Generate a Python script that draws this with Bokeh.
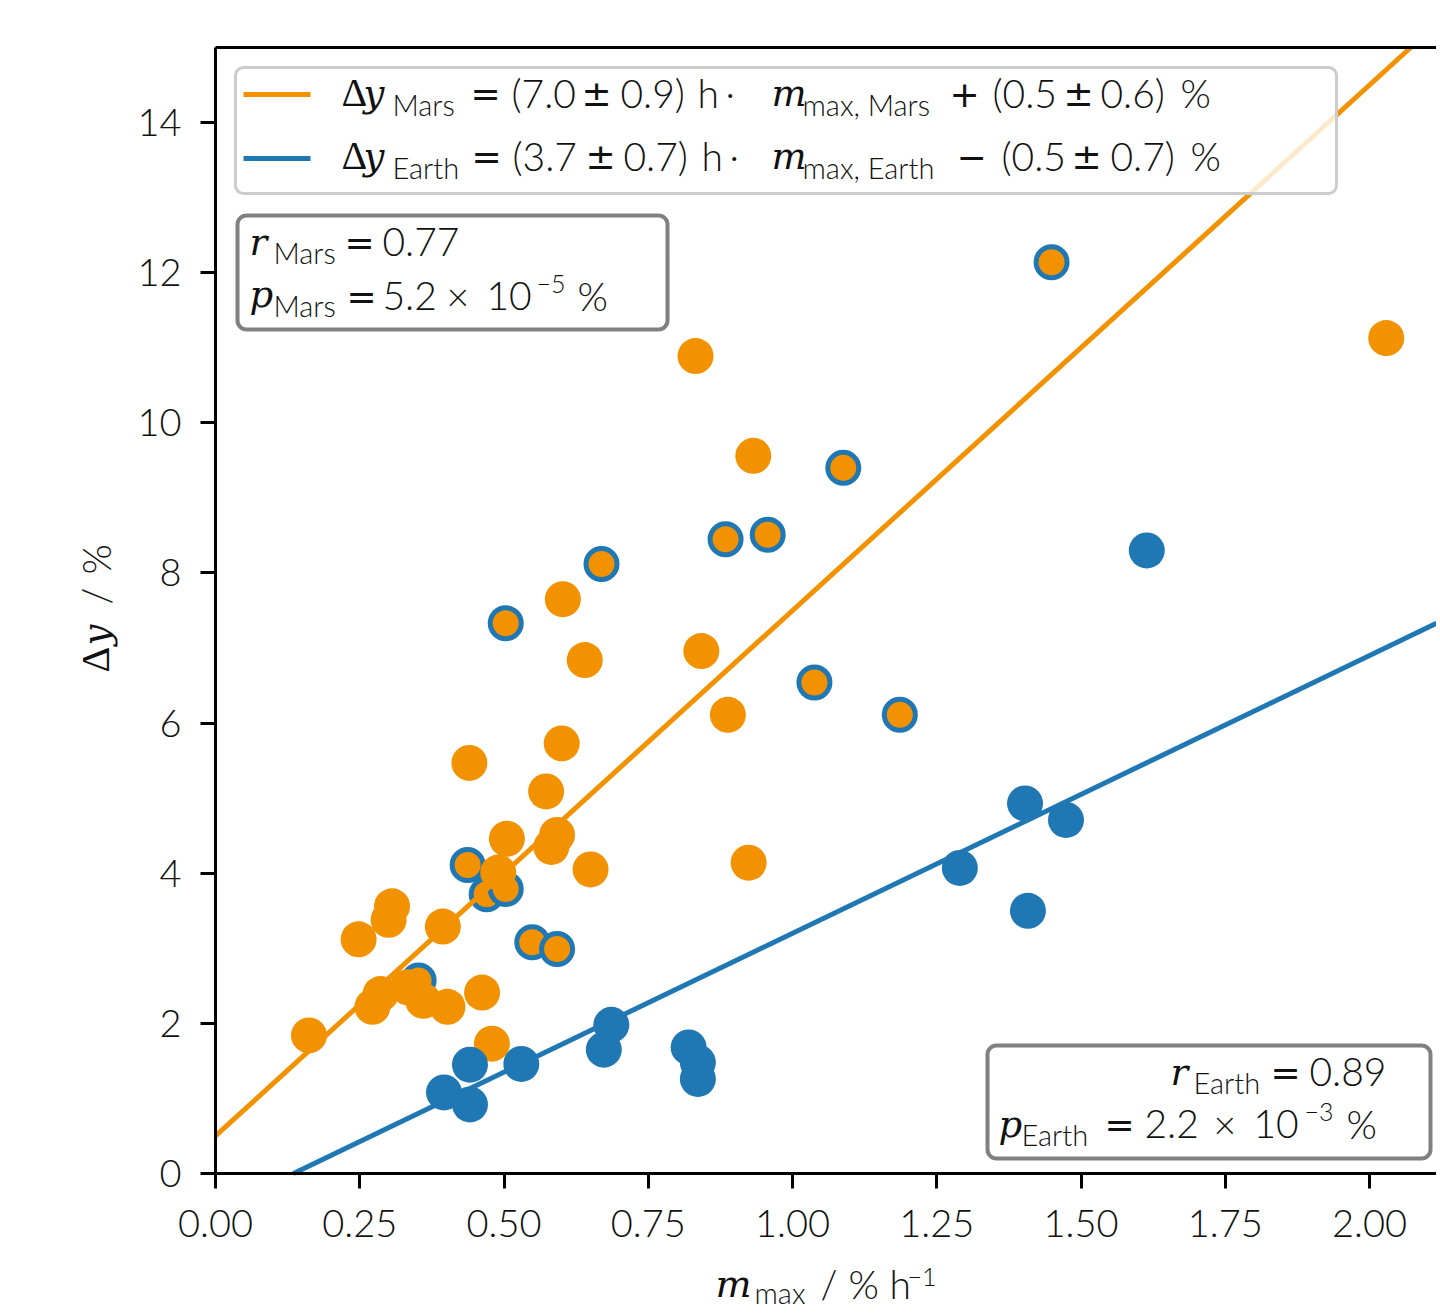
from bokeh.plotting import figure
from bokeh.models import (Range1d, FixedTicker, Label, BoxAnnotation, LinearAxis)
from bokeh.embed import file_html
from bokeh.resources import INLINE

# ---------------- data ----------------
mars_x = [0.832, 2.029, 0.932, 0.602, 0.640, 0.842, 0.888, 0.600, 0.440, 0.573,
          0.505, 0.592, 0.582, 0.650, 0.924, 0.490, 0.306, 0.300, 0.248, 0.394,
          0.162, 0.286, 0.272, 0.333, 0.360, 0.402, 0.462, 0.479]
mars_y = [10.89, 11.13, 9.56, 7.65, 6.84, 6.96, 6.11, 5.73, 5.47, 5.09,
          4.46, 4.51, 4.35, 4.05, 4.14, 4.01, 3.56, 3.38, 3.12, 3.29,
          1.84, 2.39, 2.22, 2.48, 2.30, 2.22, 2.41, 1.73]

# Mars points drawn with a blue edge
mars_ring_x = [1.449, 1.088, 0.884, 0.957, 0.669, 0.503, 1.038, 1.186, 0.437,
               0.470, 0.503, 0.549, 0.592, 0.352]
mars_ring_y = [12.14, 9.40, 8.45, 8.51, 8.12, 7.33, 6.54, 6.11, 4.11,
               3.72, 3.79, 3.08, 2.99, 2.57]

earth_x = [1.614, 1.403, 1.474, 1.290, 1.408, 0.396, 0.441, 0.441, 0.530,
           0.686, 0.673, 0.820, 0.836, 0.836]
earth_y = [8.30, 4.93, 4.71, 4.07, 3.50, 1.08, 0.92, 1.45, 1.46,
           1.98, 1.65, 1.68, 1.48, 1.26]

# linear fits (from the legend)
mars_slope, mars_intercept = 7.0, 0.5
earth_slope, earth_intercept = 3.7, -0.5

x_ticks = [0.0, 0.25, 0.5, 0.75, 1.0, 1.25, 1.5, 1.75, 2.0]
x_tick_labels = ["0.00", "0.25", "0.50", "0.75", "1.00", "1.25", "1.50", "1.75", "2.00"]
y_ticks = [0, 2, 4, 6, 8, 10, 12, 14]
y_tick_labels = ["0", "2", "4", "6", "8", "10", "12", "14"]

# ---------------- layout / style ----------------
W, H = 1436, 1310            # canvas
FL, FT, FB = 215, 47, 1173   # plot-area left / top / bottom in canvas pixels
PX_PER_X = 577.0
PX_PER_Y = (FB - FT) / 15.0
X_MAX = (W - FL) / PX_PER_X
Y_MAX = 15.0

ORANGE = "#f39200"
BLUE = "#1f77b4"
SANS = "Lato Light"
SERIF = "Liberation Serif"
ITAL = "DejaVu Serif"
SYM = "DejaVu Sans"
TXT = "#111111"
MAIN = 39
SUB = 29
SUP = 25
TICK = 38
BASE_K = 0.38   # compensation for label baseline placement

p = figure(width=W, height=H, output_backend="svg", toolbar_location=None,
           x_range=Range1d(-FL / PX_PER_X, X_MAX),
           y_range=Range1d(-(H - FB) / PX_PER_Y, Y_MAX + FT / PX_PER_Y),
           x_axis_location=None, y_axis_location=None, min_border=0)
p.outline_line_color = None
p.background_fill_color = "white"
p.border_fill_color = "white"
p.grid.visible = False


def style_axis(ax):
    ax.axis_line_width = 3
    ax.axis_line_color = "black"
    ax.major_tick_line_width = 3
    ax.major_tick_line_color = "black"
    ax.major_tick_out = 15
    ax.major_tick_in = 0
    ax.minor_tick_line_color = None
    ax.major_label_text_font = SANS
    ax.major_label_text_font_size = f"{TICK}px"
    ax.major_label_text_color = TXT


xaxis = LinearAxis(fixed_location=0, bounds=(0, X_MAX),
                   ticker=FixedTicker(ticks=x_ticks),
                   major_label_overrides=dict(zip(x_ticks, x_tick_labels)),
                   major_label_standoff=21)
style_axis(xaxis)
p.add_layout(xaxis, "below")

yaxis = LinearAxis(fixed_location=0, bounds=(0, Y_MAX),
                   ticker=FixedTicker(ticks=y_ticks),
                   major_label_overrides=dict(zip(y_ticks, y_tick_labels)),
                   major_label_standoff=19)
style_axis(yaxis)
p.add_layout(yaxis, "left")

top = LinearAxis(fixed_location=Y_MAX, bounds=(0, X_MAX), ticker=FixedTicker(ticks=[]))
style_axis(top)
top.major_tick_out = 0
p.add_layout(top, "above")

# ---------------- marks ----------------
p.scatter(mars_ring_x, mars_ring_y, size=31, fill_color=ORANGE, line_color=BLUE, line_width=5)
p.scatter(mars_x, mars_y, size=36, fill_color=ORANGE, line_color=None)
p.scatter(earth_x, earth_y, size=36, fill_color=BLUE, line_color=None)

# fit lines, limited to the plot area
for slope, icpt, col in [(mars_slope, mars_intercept, ORANGE),
                         (earth_slope, earth_intercept, BLUE)]:
    x0 = max(0.0, (0.0 - icpt) / slope)
    x1 = min(X_MAX, (Y_MAX - icpt) / slope)
    p.line([x0, x1], [slope * x0 + icpt, slope * x1 + icpt], line_color=col, line_width=5)


# ---------------- annotations (canvas pixel positions) ----------------
def box(x0, y0, x1, y1, line_color, line_width, fill_alpha=1.0, radius=8, fill="white"):
    p.add_layout(BoxAnnotation(left=x0, right=x1, top=H - y0, bottom=H - y1,
                               left_units="screen", right_units="screen",
                               top_units="screen", bottom_units="screen",
                               fill_color=fill, fill_alpha=fill_alpha,
                               line_color=line_color, line_width=line_width,
                               line_alpha=1.0 if line_color else 0,
                               border_radius=radius))


def put(text, X, Y, size=MAIN, font=SANS, style="normal", angle=0.0):
    # (X, Y): wanted left end of the text baseline, canvas pixels from top-left
    if angle == 0.0:
        Y = Y - BASE_K * size
    else:
        X = X - BASE_K * size
    p.add_layout(Label(x=X, y=H - Y, x_units="screen", y_units="screen",
                       text=text, text_font=font, text_font_size=f"{size}px",
                       text_font_style=style, text_color=TXT,
                       text_baseline="alphabetic", text_align="left", angle=angle))


# legend
box(235, 67, 1336, 193, "#cccccc", 3, fill_alpha=0.8, radius=8)
box(243, 91.5, 310, 96.5, None, 0, radius=0, fill=ORANGE)
box(243, 155.5, 310, 160.5, None, 0, radius=0, fill=BLUE)

for (b, sb, name, a, b1, sign, c, d, xs) in [
    (107, 115, "Mars", "(7.0", "0.9)", "+", "(0.5", "0.6)",
     dict(eq=470, a=511, pm1=581, b1=620, h=697, dot=725, m=771, sub=802, sign=949,
          c=992, pm2=1063, d=1100, pc=1180)),
    (170, 178, "Earth", "(3.7", "0.7)", "\u2212", "(0.5", "0.7)",
     dict(eq=471, a=512, pm1=585, b1=623, h=701, dot=729, m=771, sub=802, sign=956,
          c=1001, pm2=1071, d=1110, pc=1190)),
]:
    put("\u0394", 341, b, 40, SERIF)
    put("y", 363, b, 37, ITAL, "italic")
    put(name, 392, sb, SUB)
    put("=", xs["eq"], b, 36, SYM)
    put(a, xs["a"], b)
    put("\u00b1", xs["pm1"], b, 36, SYM)
    put(b1, xs["b1"], b)
    put("h", xs["h"], b)
    put("\u00b7", xs["dot"], b)
    put("m", xs["m"], b, 37, ITAL, "italic")
    put("max, " + name, xs["sub"], sb, SUB)
    put(sign, xs["sign"], b, 36, SYM)
    put(c, xs["c"], b)
    put("\u00b1", xs["pm2"], b, 36, SYM)
    put(d, xs["d"], b)
    put("%", xs["pc"], b)

# Mars correlation box
box(237, 215, 667, 329, "#808080", 4, radius=9)
put("r", 249, 256, 37, ITAL, "italic")
put("Mars", 273, 263, SUB)
put("=", 344, 256, 36, SYM)
put("0.77", 382, 256)
put("p", 249, 308, 37, ITAL, "italic")
put("Mars", 273, 316, SUB)
put("=", 346, 310, 36, SYM)
put("5.2", 382, 310)
put("\u00d7", 446, 310)
put("10", 486, 310)
put("\u22125", 536, 293, SUP)
put("%", 577, 310)

# Earth correlation box
box(987, 1045, 1430, 1158, "#808080", 4, radius=9)
put("r", 1170, 1086, 37, ITAL, "italic")
put("Earth", 1193, 1093, SUB)
put("=", 1270, 1086, 36, SYM)
put("0.89", 1309, 1086)
put("p", 998, 1138, 37, ITAL, "italic")
put("Earth", 1021, 1145, SUB)
put("=", 1104, 1138, 36, SYM)
put("2.2", 1144, 1138)
put("\u00d7", 1213, 1138)
put("10", 1253, 1138)
put("\u22123", 1304, 1121, SUP)
put("%", 1346, 1138)

# x axis label
put("m", 715, 1298, 38, ITAL, "italic")
put("max", 754, 1303, SUB)
put("/", 820, 1298)
put("%", 848, 1298)
put("h", 889, 1298)
put("\u22121", 907, 1286, SUP)

# y axis label (rotated)
ROT = 1.5707963
put("\u0394", 110, 672, 40, SERIF, angle=ROT)
put("y", 110, 645, 37, ITAL, "italic", angle=ROT)
put("/", 110, 604, angle=ROT)
put("%", 110, 574, angle=ROT)

open("out.html", "w").write(file_html(p, INLINE))
